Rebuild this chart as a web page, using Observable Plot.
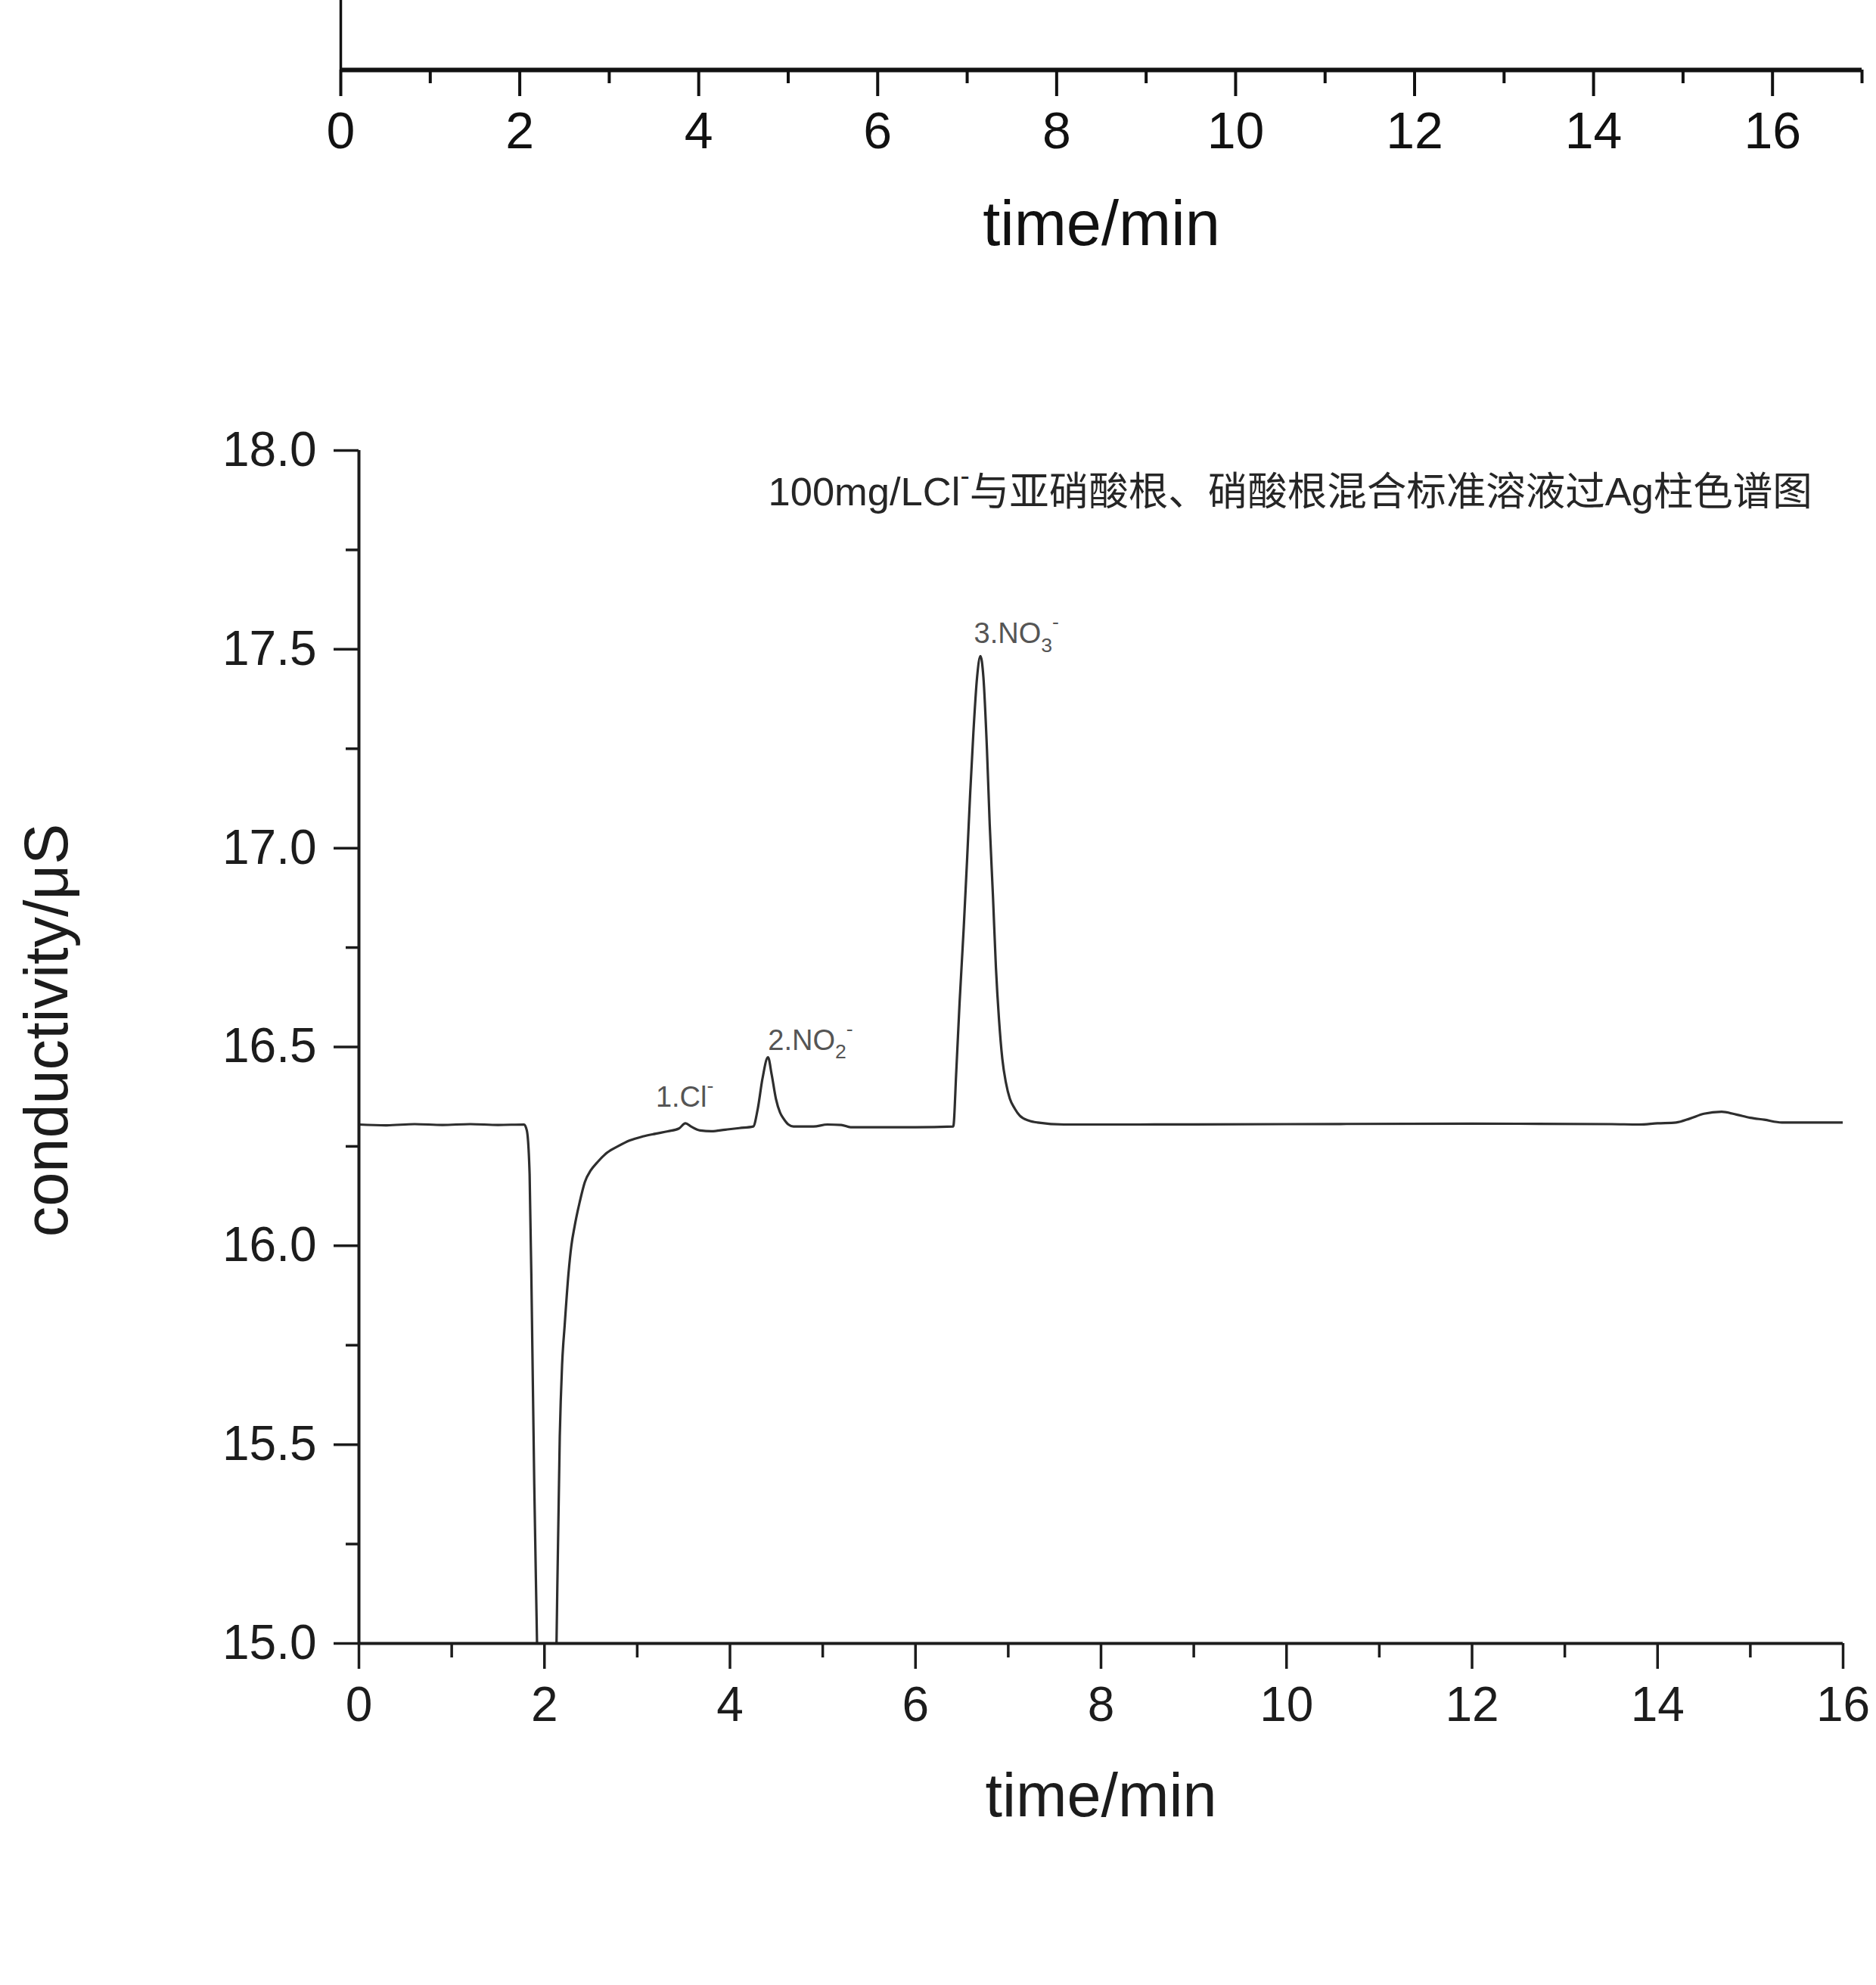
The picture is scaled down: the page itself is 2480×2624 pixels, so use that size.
<!DOCTYPE html>
<html>
<head>
<meta charset="utf-8">
<script src="https://cdn.jsdelivr.net/npm/d3@7"></script>
<script src="https://cdn.jsdelivr.net/npm/@observablehq/plot@0.6"></script>
<style>
  html, body { margin: 0; padding: 0; background: #fff; }
  #wrap { width: 2480px; height: 2624px; overflow: hidden; background: #fff; }
  #wrap svg { display: block; }
</style>
</head>
<body>
<div id="wrap"></div>
<script>
// ---------- data ----------
const times = [
  0.00, 0.30, 0.60, 0.90, 1.20, 1.50, 1.78, 1.81, 1.84, 1.865, 1.89, 1.92, 1.96, 2.03,
  2.10, 2.13, 2.165, 2.19, 2.218, 2.259, 2.29, 2.326, 2.38, 2.435, 2.50, 2.57, 2.68,
  2.79, 2.92, 3.06, 3.20, 3.33, 3.45, 3.52, 3.58, 3.68, 3.80, 3.95, 4.10, 4.25, 4.30,
  4.35, 4.41, 4.45, 4.495, 4.54, 4.577, 4.63, 4.685, 4.90, 5.05, 5.20, 5.30, 6.00,
  6.407, 6.44, 6.475, 6.52, 6.556, 6.59, 6.624, 6.664, 6.70, 6.732, 6.77, 6.80, 6.835,
  6.867, 6.90, 6.936, 6.975, 7.017, 7.07, 7.125, 7.22, 7.316, 7.60, 8.34, 10.0, 12.0,
  13.5, 13.8, 14.0, 14.2, 14.35, 14.5, 14.69, 14.85, 15.0, 15.15, 15.34, 15.6, 16.0
];
const conductivity = [
  16.305, 16.303, 16.306, 16.304, 16.306, 16.304, 16.305, 16.29, 16.18, 15.82, 15.40, 15.00, 14.40, 14.00,
  14.50, 15.00, 15.52, 15.70, 15.80, 15.93, 16.00, 16.05, 16.11, 16.16, 16.19, 16.21, 16.235,
  16.25, 16.265, 16.275, 16.282, 16.288, 16.295, 16.308, 16.300, 16.290, 16.288, 16.292, 16.296, 16.300, 16.345,
  16.42, 16.474, 16.43, 16.37, 16.335, 16.32, 16.305, 16.300, 16.300, 16.305, 16.304, 16.298, 16.298,
  16.300, 16.44, 16.61, 16.80, 16.97, 17.14, 17.29, 17.43, 17.483, 17.43, 17.25, 17.06, 16.88,
  16.70, 16.57, 16.47, 16.41, 16.37, 16.345, 16.327, 16.315, 16.31, 16.305, 16.305, 16.306, 16.307,
  16.306, 16.305, 16.308, 16.31, 16.32, 16.332, 16.337, 16.33, 16.322, 16.317, 16.31, 16.31, 16.31
];

// peak annotations (text + where the label sits, in data units)
const peakLabels = ["1.Cl^-", "2.NO_2^-", "3.NO_3^-"];
const peakLabelTimes = [3.20, 4.41, 6.63];
const peakLabelValues = [16.349, 16.493, 17.515];

const chartTitle = "100mg/LCl^-与亚硝酸根、硝酸根混合标准溶液过Ag柱色谱图";
const xLabel = "time/min";
const yLabel = "conductivity/μS";

// ticks
const xMajorTicks = [0, 2, 4, 6, 8, 10, 12, 14, 16];
const xMinorTicks = [1, 3, 5, 7, 9, 11, 13, 15];
const yMajorTicks = [15.0, 15.5, 16.0, 16.5, 17.0, 17.5, 18.0];
const yMinorTicks = [15.25, 15.75, 16.25, 16.75, 17.25, 17.75];

// top (cropped) previous chart: only its x axis is visible
const topXMajorTicks = [0, 2, 4, 6, 8, 10, 12, 14, 16];
const topXMinorTicks = [1, 3, 5, 7, 9, 11, 13, 15, 17];

const table = times.map((t, i) => ({time: t, value: conductivity[i]}));
const labelTable = peakLabels.map((s, i) => ({label: s, time: peakLabelTimes[i], value: peakLabelValues[i]}));

const FONT = "'Liberation Sans', Arial, 'Noto Sans CJK SC', sans-serif";
const INK = "#1c1c1c";
const intFmt = d3.format("d");

// ---------- top cropped axis ----------
const topChart = Plot.plot({
  width: 2480,
  height: 400,
  marginLeft: 450,
  marginRight: 19,
  marginTop: 0,
  marginBottom: 308,
  style: {fontFamily: FONT, color: "#111", background: "white"},
  x: {domain: [0, 17]},
  y: {domain: [0, 1], axis: null},
  marks: [
    Plot.axisX(topXMinorTicks, {tickSize: 18, strokeWidth: 4, text: null, anchor: "bottom", label: null}),
    Plot.axisX(topXMajorTicks, {tickSize: 35, tickPadding: 20, strokeWidth: 4, fontSize: 68, anchor: "bottom", label: null, tickFormat: intFmt}),
    Plot.ruleY([0], {stroke: "#111", strokeWidth: 6}),
    Plot.ruleX([0], {stroke: "#111", strokeWidth: 3.5}),
    Plot.text([xLabel], {frameAnchor: "bottom", dy: 231, textAnchor: "middle", lineAnchor: "bottom", fontSize: 83, fill: "#111"})
  ]
});

// ---------- main chromatogram ----------
const mainChart = Plot.plot({
  width: 2480,
  height: 2224,
  marginLeft: 474,
  marginRight: 44,
  marginTop: 195,
  marginBottom: 452,
  style: {fontFamily: FONT, color: INK, background: "white"},
  x: {domain: [0, 16]},
  y: {domain: [15, 18]},
  marks: [
    Plot.axisX(xMinorTicks, {tickSize: 19, strokeWidth: 3.5, text: null, anchor: "bottom", label: null}),
    Plot.axisX(xMajorTicks, {tickSize: 34, tickPadding: 23, strokeWidth: 3.5, fontSize: 64, anchor: "bottom", label: null, tickFormat: intFmt}),
    Plot.axisY(yMinorTicks, {tickSize: 17, strokeWidth: 3.5, text: null, anchor: "left", label: null}),
    Plot.axisY(yMajorTicks, {tickSize: 33, tickPadding: 23, strokeWidth: 3.5, fontSize: 64, anchor: "left", label: null, tickFormat: d3.format(".1f")}),
    Plot.line(table, {x: "time", y: "value", stroke: "#2e2e2e", strokeWidth: 3.2, clip: true, curve: "monotone-x"}),
    Plot.ruleY([15], {stroke: INK, strokeWidth: 4}),
    Plot.ruleX([0], {stroke: INK, strokeWidth: 4}),
    Plot.text(labelTable, {x: "time", y: "value", text: "label", textAnchor: "start", lineAnchor: "bottom", fontSize: 38, fill: "#555"}),
    Plot.text([chartTitle], {frameAnchor: "top-left", dx: 541, dy: 72, textAnchor: "start", lineAnchor: "bottom", fontSize: 52.5, fill: "#262626"}),
    Plot.text([xLabel], {frameAnchor: "bottom", dy: 228, textAnchor: "middle", lineAnchor: "bottom", fontSize: 81, fill: INK}),
    Plot.text([yLabel], {frameAnchor: "left", dx: -386, dy: -22, rotate: -90, textAnchor: "middle", lineAnchor: "bottom", fontSize: 81, fill: INK})
  ]
});

// turn "_x" into subscripts and "^x" into superscripts
function richify(svg) {
  const ns = "http://www.w3.org/2000/svg";
  svg.querySelectorAll("text").forEach(t => {
    if (t.children.length) return;
    const s = t.textContent;
    if (!/[\^_]/.test(s)) return;
    let fs = parseFloat(t.getAttribute("font-size"));
    if (!fs) { const g = t.closest("[font-size]"); fs = g ? parseFloat(g.getAttribute("font-size")) : 40; }
    t.textContent = "";
    let shift = 0, i = 0;
    while (i < s.length) {
      let kind = "n", chunk;
      if ((s[i] === "^" || s[i] === "_") && i + 1 < s.length) { kind = s[i]; chunk = s[i + 1]; i += 2; }
      else { let j = i; while (j < s.length && s[j] !== "^" && s[j] !== "_") j++; chunk = s.slice(i, j); i = j; }
      const target = kind === "^" ? -0.5 * fs : kind === "_" ? 0.3 * fs : 0;
      const ts = document.createElementNS(ns, "tspan");
      if (target !== shift) ts.setAttribute("dy", target - shift);
      if (kind !== "n") ts.setAttribute("font-size", 0.7 * fs);
      ts.textContent = chunk;
      t.appendChild(ts);
      shift = target;
    }
  });
}
richify(mainChart);

const wrap = document.getElementById("wrap");
wrap.appendChild(topChart);
wrap.appendChild(mainChart);
</script>
</body>
</html>
